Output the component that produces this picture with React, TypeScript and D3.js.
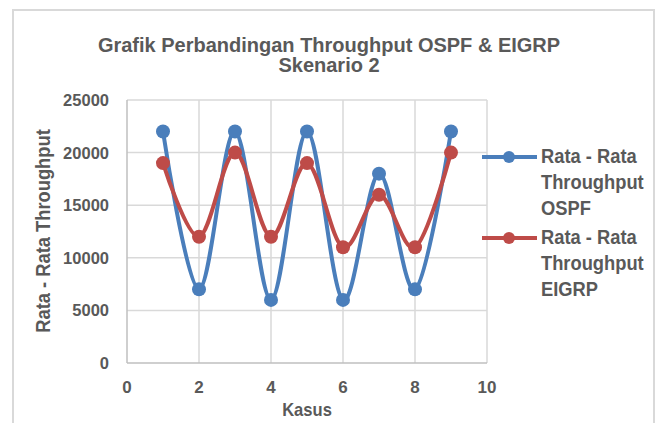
import React from "react";
import * as d3 from "d3";

const kasus = [1, 2, 3, 4, 5, 6, 7, 8, 9];
const ospf = [22000, 7000, 22000, 6000, 22000, 6000, 18000, 7000, 22000];
const eigrp = [19000, 12000, 20000, 12000, 19000, 11000, 16000, 11000, 20000];
const xTicks = [0, 2, 4, 6, 8, 10];
const yTicks = [0, 5000, 10000, 15000, 20000, 25000];
const titleLines = ["Grafik Perbandingan Throughput OSPF & EIGRP", "Skenario 2"];
const legendOspf = ["Rata - Rata", "Throughput", "OSPF"];
const legendEigrp = ["Rata - Rata", "Throughput", "EIGRP"];

const W = 659;
const H = 423;
const FONT = "'Liberation Sans', Arial, sans-serif";
const TXT = "#595959";
const BLUE = "#4a7ebb";
const RED = "#be4b48";

function SText({ x, y, size, sx = 0.94, anchor = "start", rotate = 0, children }: any) {
  return (
    <g transform={`translate(${x},${y}) rotate(${rotate}) scale(${sx},1)`}>
      <text x={0} y={0} fontFamily={FONT} fontWeight="bold" fontSize={size} fill={TXT} textAnchor={anchor}>
        {children}
      </text>
    </g>
  );
}

export default function App() {
  const x = d3.scaleLinear().domain([0, 10]).range([127, 487]);
  const y = d3.scaleLinear().domain([0, 25000]).range([363, 100]);
  const line = d3
    .line<number>()
    .x((_, i) => x(kasus[i]))
    .y((d) => y(d))
    .curve(d3.curveCardinal.tension(0));

  const series = [
    { data: ospf, color: BLUE, legend: legendOspf, ly: 157 },
    { data: eigrp, color: RED, legend: legendEigrp, ly: 238 },
  ];

  return (
    <svg width={W} height={H} style={{ position: "absolute", left: 0, top: 0, background: "#fff" }}>
      <rect x={13} y={10} width={641} height={430} fill="#fff" stroke="#d9d9d9" strokeWidth={2} />
      {titleLines.map((t, i) => (
        <SText key={i} x={329} y={51.5 + i * 20.5} size={20} sx={1} anchor="middle">
          {t}
        </SText>
      ))}
      {yTicks.slice(1).map((t) => (
        <line key={"gy" + t} x1={x(0)} x2={x(10)} y1={y(t)} y2={y(t)} stroke="#d9d9d9" strokeWidth={1.5} />
      ))}
      {xTicks.slice(1).map((t) => (
        <line key={"gx" + t} x1={x(t)} x2={x(t)} y1={y(0)} y2={y(25000)} stroke="#d9d9d9" strokeWidth={1.5} />
      ))}
      <line x1={x(0)} x2={x(10)} y1={y(0)} y2={y(0)} stroke="#bfbfbf" strokeWidth={1.5} />
      <line x1={x(0)} x2={x(0)} y1={y(0)} y2={y(25000)} stroke="#bfbfbf" strokeWidth={1.5} />
      {yTicks.map((t) => (
        <text key={"ty" + t} x={109} y={y(t) + 6} fontFamily={FONT} fontWeight="bold" fontSize={16.5} fill={TXT} textAnchor="end">
          {t}
        </text>
      ))}
      {xTicks.map((t) => (
        <text key={"tx" + t} x={x(t)} y={393} fontFamily={FONT} fontWeight="bold" fontSize={17} fill={TXT} textAnchor="middle">
          {t}
        </text>
      ))}
      <SText x={307} y={416} size={18} sx={0.92} anchor="middle">
        Kasus
      </SText>
      <SText x={50} y={231} size={19.5} sx={0.94} anchor="middle" rotate={-90}>
        Rata - Rata Throughput
      </SText>
      {series.map((s, si) => (
        <g key={si}>
          <path d={line(s.data) || ""} fill="none" stroke={s.color} strokeWidth={4} />
          {s.data.map((v, i) => (
            <circle key={i} cx={x(kasus[i])} cy={y(v)} r={7} fill={s.color} />
          ))}
        </g>
      ))}
      {series.map((s, si) => (
        <g key={"lg" + si}>
          <line x1={482} x2={537} y1={s.ly} y2={s.ly} stroke={s.color} strokeWidth={4} />
          <circle cx={509} cy={s.ly} r={6} fill={s.color} />
          {s.legend.map((t, i) => (
            <SText key={i} x={541} y={s.ly + 6 + i * 26} size={19.5} sx={0.94}>
              {t}
            </SText>
          ))}
        </g>
      ))}
    </svg>
  );
}
